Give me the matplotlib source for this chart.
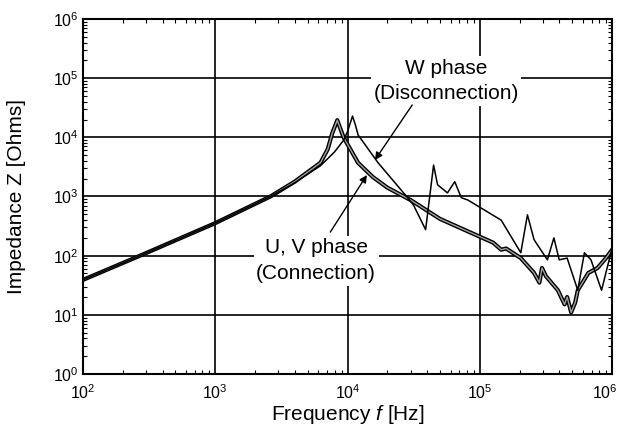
import math
import matplotlib
matplotlib.use("Agg")
import matplotlib.pyplot as plt
from matplotlib.ticker import LogLocator, FuncFormatter, NullFormatter

plt.rcParams['font.family'] = ['Liberation Sans', 'DejaVu Sans']
plt.rcParams['mathtext.fontset'] = 'custom'
plt.rcParams['mathtext.rm'] = 'Liberation Sans'
plt.rcParams['mathtext.it'] = 'Liberation Sans:italic'

# U, V phase (Connection)
uv_freq = [100, 270, 1000, 2610, 3980, 6240, 7080, 7660, 8360, 8910, 9330, 10000,
           12000, 15500, 20000, 30000, 50100, 100000, 126000, 145000, 158000,
           204000, 257000, 282000, 295000, 316000, 389000, 437000, 457000,
           490000, 525000, 550000, 661000, 776000, 891000, 1000000]
uv_z = [39, 100, 355, 1000, 1780, 3720, 6310, 11750, 19500, 13200, 10000, 7590,
        3720, 2140, 1410, 870, 417, 209, 166, 126, 132,
        91, 51, 35, 62, 45, 26, 15, 20,
        11, 16, 26, 51, 62, 89, 126]

# W phase (Disconnection)
w_freq = [100, 270, 1000, 2610, 3980, 6240, 7940, 9330, 10000, 10900, 11500, 12000,
          17000, 28200, 31600, 38900, 44700, 47900, 56900, 64600, 72400, 81300,
          145000, 204000, 229000, 257000, 324000, 363000, 398000, 457000,
          550000, 617000, 692000, 832000, 1000000]
w_z = [39, 100, 355, 1000, 1700, 3310, 5620, 8910, 12600, 22900, 15800, 11000,
       3720, 977, 708, 275, 3390, 1580, 1150, 1780, 955, 870,
       398, 112, 490, 186, 85, 200, 85, 91,
       26, 112, 85, 26, 135]

x_ticks = [1e2, 1e3, 1e4, 1e5, 1e6]
y_ticks = [1e0, 1e1, 1e2, 1e3, 1e4, 1e5, 1e6]

fig = plt.figure(figsize=(6.21, 4.33), dpi=100)
ax = fig.add_axes([0.1337, 0.1363, 0.852, 0.8198])

ax.set_xscale('log')
ax.set_yscale('log')
ax.set_xlim(x_ticks[0], x_ticks[-1])
ax.set_ylim(y_ticks[0], y_ticks[-1])

ax.grid(True, which='major', color='black', linewidth=1.2)
ax.set_axisbelow(True)

ax.plot(uv_freq, uv_z, color='black', linewidth=3.0, solid_joinstyle='round', zorder=3)
ax.plot(uv_freq, uv_z, color='#a0a0a0', linewidth=1.0, solid_joinstyle='round', zorder=4)
ax.plot(w_freq, w_z, color='black', linewidth=1.1, zorder=5)

def sci(v, pos=None):
    return r'$10^{%d}$' % round(math.log10(v))

ax.set_xticks(x_ticks)
ax.set_yticks(y_ticks)
# last x tick label drawn separately so it stays inside the figure
ax.xaxis.set_major_formatter(FuncFormatter(lambda v, p: '' if v >= x_ticks[-1] else sci(v)))
ax.yaxis.set_major_formatter(FuncFormatter(sci))
ax.xaxis.set_minor_locator(LogLocator(base=10, subs=range(2, 10), numticks=20))
ax.yaxis.set_minor_locator(LogLocator(base=10, subs=range(2, 10), numticks=20))
ax.xaxis.set_minor_formatter(NullFormatter())
ax.yaxis.set_minor_formatter(NullFormatter())
ax.tick_params(which='both', direction='in', top=True, right=True, labelsize=11.5)
ax.tick_params(axis='x', which='major', length=0, pad=7)
ax.tick_params(axis='y', which='major', length=0, pad=3)
ax.tick_params(which='minor', length=3, width=0.8)

ax.annotate(sci(x_ticks[-1]), xy=(x_ticks[-1], 0), xycoords=('data', 'axes fraction'),
            xytext=(-5, -7), textcoords='offset points', ha='center', va='top',
            fontsize=11.5, annotation_clip=False)

for s in ax.spines.values():
    s.set_linewidth(1.5)

ax.set_xlabel('Frequency $f$ [Hz]', fontsize=15)
ax.set_ylabel('Impedance Z [Ohms]', fontsize=15)
ax.xaxis.set_label_coords(0.5, -0.083)
ax.yaxis.set_label_coords(-0.107, 0.5)

box = dict(boxstyle='square,pad=0.12', fc='white', ec='none')
ax.text(55600, 89500, 'W phase\n(Disconnection)', ha='center', va='center',
        fontsize=15, linespacing=1.45, bbox=box, zorder=6)
ax.text(5780, 82, 'U, V phase\n(Connection)', ha='center', va='center',
        fontsize=15, linespacing=1.45, bbox=box, zorder=6)

arrow = dict(arrowstyle='-|>', color='black', lw=1.0, shrinkA=0, shrinkB=0,
             mutation_scale=11)
ax.annotate('', xy=(16100, 4140), xytext=(30800, 35200), arrowprops=arrow, zorder=7)
ax.annotate('', xy=(14000, 2310), xytext=(7400, 250), arrowprops=arrow, zorder=7)

fig.savefig('out.png', dpi=100)
